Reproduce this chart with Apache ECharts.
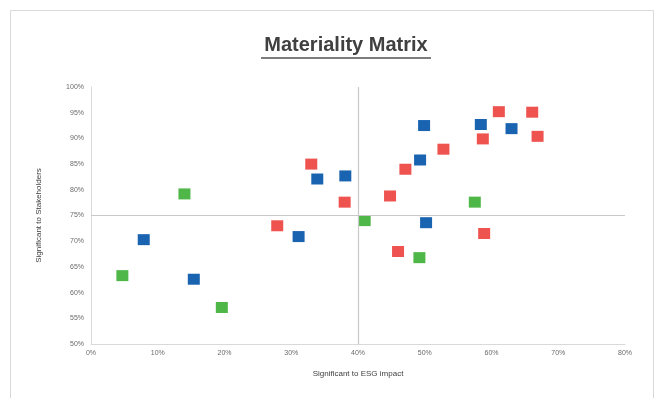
<!DOCTYPE html>
<html>
<head>
<meta charset="utf-8">
<script src="https://cdn.jsdelivr.net/npm/echarts@6/dist/echarts.min.js"></script>
<style>html,body{margin:0;padding:0;background:#fff;}#c{width:660px;height:398px;}</style>
</head>
<body>
<div id="c"></div>
<script>
// ESG impact (%) , stakeholders (%)
const greenPoints = [[14.0,79.2],[4.7,63.3],[19.6,57.1],[41.0,74.0],[49.2,66.8],[57.5,77.6]];
const bluePoints = [[7.9,70.3],[15.4,62.6],[31.1,70.9],[33.9,82.1],[38.1,82.7],[49.9,92.5],[49.3,85.8],[50.2,73.6],[58.4,92.7],[63.0,91.9]];
const redPoints = [[33.0,85.0],[38.0,77.6],[27.9,73.0],[44.8,78.8],[47.1,84.0],[52.8,87.9],[46.0,68.0],[58.9,71.5],[58.7,89.9],[61.1,95.2],[66.1,95.1],[66.9,90.4]];
const xMin = 0, xMax = 80, xStep = 10;
const yMin = 50, yMax = 100, yStep = 5;
const xThreshold = 40, yThreshold = 75;
const titleText = 'Materiality Matrix';
const xName = 'Significant to ESG impact';
const yName = 'Significant to Stakeholders';

const chart = echarts.init(document.getElementById('c'), null, {renderer:'canvas'});
const marker = {symbol:'rect', symbolSize:[12,11]};
const lbl = {color:'#6a6a6a', fontSize:7, fontFamily:'Liberation Sans'};
chart.setOption({
  animation:false,
  backgroundColor:'#fff',
  graphic:[
    {type:'rect', left:8, top:8, shape:{width:643, height:392}, style:{fill:'none', stroke:'#d9d9d9', lineWidth:1}, z:-1},
    {type:'text', x:346, y:35, style:{text:titleText, textAlign:'center', fill:'#404040', font:'bold 20px "Liberation Sans", sans-serif'}},
    {type:'line', shape:{x1:261, y1:58, x2:431, y2:58}, style:{stroke:'#505050', lineWidth:1.5}}
  ],
  grid:{left:91, right:35, top:87, bottom:54},
  xAxis:{type:'value', min:xMin, max:xMax, interval:xStep,
    name:xName, nameLocation:'middle', nameGap:26,
    nameTextStyle:{color:'#404040', fontSize:8, fontFamily:'Liberation Sans'},
    axisLine:{show:true, lineStyle:{color:'#d9d9d9'}}, axisTick:{show:false},
    splitLine:{show:false}, axisLabel:Object.assign({formatter:'{value}%', margin:6}, lbl)},
  yAxis:{type:'value', min:yMin, max:yMax, interval:yStep,
    name:yName, nameLocation:'middle', nameGap:48, nameRotate:90,
    nameTextStyle:{color:'#404040', fontSize:8, fontFamily:'Liberation Sans'},
    axisLine:{show:true, lineStyle:{color:'#d9d9d9'}}, axisTick:{show:false},
    splitLine:{show:false}, axisLabel:Object.assign({formatter:'{value}%', margin:7}, lbl)},
  series:[
    Object.assign({type:'scatter', name:'green', data:greenPoints, itemStyle:{color:'#4fb748', opacity:1},
      markLine:{silent:true, symbol:'none', label:{show:false}, lineStyle:{color:'#c8c8c8', width:1.2, type:'solid'},
        data:[{xAxis:xThreshold},{yAxis:yThreshold}]}}, marker),
    Object.assign({type:'scatter', name:'blue', data:bluePoints, itemStyle:{color:'#1a63b0', opacity:1}}, marker),
    Object.assign({type:'scatter', name:'red', data:redPoints, itemStyle:{color:'#ee5350', opacity:1}}, marker)
  ]
});
</script>
</body>
</html>
